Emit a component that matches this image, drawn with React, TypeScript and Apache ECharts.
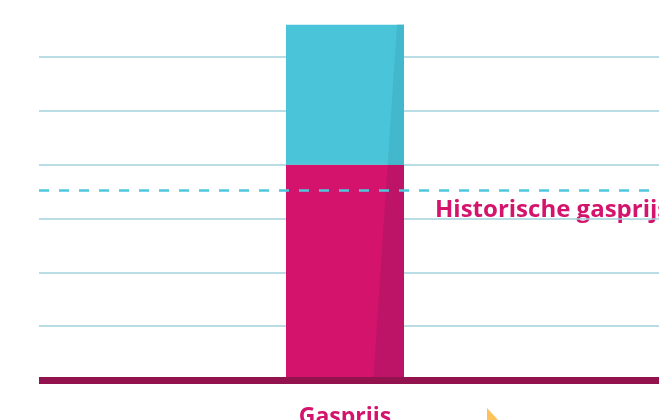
import React, { useEffect, useRef } from "react";
import * as echarts from "echarts";

const categories = ["Gasprijs"];
const baseValues = [4.0];
const topValues = [2.6];
const historicValue = 3.52;
const historicLabel = "Historische gasprijs";

const CYAN = "#4ac4d9";
const CYAN_SHADE = "#43b8cd";
const MAGENTA = "#d4146c";
const MAGENTA_SHADE = "#bd1467";

export default function App() {
  const ref = useRef<HTMLDivElement>(null);
  useEffect(() => {
    if (!ref.current) return;
    const chart = echarts.init(ref.current, undefined, { renderer: "svg" });
    const BW = 118;
    chart.setOption({
      animation: false,
      grid: [
        { left: 39, right: 0, top: 57, bottom: 40, outerBoundsMode: "none", containLabel: false },
        { left: 39, right: 8, top: 57, bottom: 40, outerBoundsMode: "none", containLabel: false },
      ],
      xAxis: [
        {
          gridIndex: 0,
          type: "value",
          min: 0,
          max: 1,
          z: 5,
          offset: 2,
          axisLine: { show: true, lineStyle: { color: "#93134f", width: 7, cap: "butt" } },
          axisTick: { show: false },
          axisLabel: { show: false },
          splitLine: { show: false },
        },
        {
          gridIndex: 1,
          type: "category",
          data: categories,
          axisLine: { show: false },
          axisTick: { show: false },
          axisLabel: {
            margin: 23,
            color: MAGENTA,
            fontFamily: "Open Sans",
            fontWeight: "bold",
            fontSize: 23,
          },
        },
      ],
      yAxis: [
        {
          gridIndex: 0,
          type: "value",
          min: 0,
          max: 6,
          interval: 1,
          axisLine: { show: false },
          axisTick: { show: false },
          axisLabel: { show: false },
          splitLine: { show: true, lineStyle: { color: "#a3d2dc", width: 1.6 } },
        },
        {
          gridIndex: 1,
          type: "value",
          min: 0,
          max: 6,
          interval: 1,
          axisLine: { show: false },
          axisTick: { show: false },
          axisLabel: { show: false },
          splitLine: { show: false },
        },
      ],
      series: [
        {
          type: "bar",
          xAxisIndex: 1,
          yAxisIndex: 1,
          stack: "a",
          barWidth: BW,
          clip: false,
          data: baseValues,
          itemStyle: { color: MAGENTA },
          z: 2,
        },
        {
          type: "bar",
          xAxisIndex: 1,
          yAxisIndex: 1,
          stack: "a",
          barWidth: BW,
          clip: false,
          data: topValues,
          itemStyle: { color: CYAN },
          z: 2,
        },
        {
          type: "custom",
          xAxisIndex: 1,
          yAxisIndex: 1,
          clip: false,
          z: 3,
          data: categories.map((c, i) => [i, baseValues[i], baseValues[i] + topValues[i]]),
          renderItem: (params: any, api: any) => {
            const bot = api.coord([api.value(0), 0]);
            const mid = api.coord([api.value(0), api.value(1)]);
            const top = api.coord([api.value(0), api.value(2)]);
            const left = bot[0] - BW / 2;
            const right = left + BW;
            const fb = 0.74, ft = 0.94;
            const xAt = (y: number) => {
              const t = (bot[1] - y) / (bot[1] - top[1]);
              return left + BW * (fb + (ft - fb) * t);
            };
            return {
              type: "group",
              children: [
                {
                  type: "polygon",
                  shape: { points: [[xAt(bot[1]), bot[1]], [xAt(mid[1]), mid[1]], [right, mid[1]], [right, bot[1]]] },
                  style: { fill: MAGENTA_SHADE },
                },
                {
                  type: "polygon",
                  shape: { points: [[xAt(mid[1]), mid[1]], [xAt(top[1]), top[1]], [right, top[1]], [right, mid[1]]] },
                  style: { fill: CYAN_SHADE },
                },
              ],
            };
          },
        },
        {
          type: "line",
          xAxisIndex: 0,
          yAxisIndex: 0,
          data: [],
          z: 10,
          markLine: {
            silent: true,
            symbol: ["none", "none"],
            label: { show: false },
            lineStyle: { color: "#4ec8dd", width: 2.5, type: [10, 10] },
            data: [{ yAxis: historicValue }],
          },
        },
      ],
      graphic: [
        {
          type: "text",
          left: 435,
          top: 195,
          style: {
            text: historicLabel,
            fill: MAGENTA,
            font: "bold 24px 'Open Sans'",
          },
        },
        {
          type: "polygon",
          shape: { points: [[487, 408], [499, 421], [487, 421]] },
          style: { fill: "#fcc35a" },
        },
      ],
    });
    return () => chart.dispose();
  }, []);
  return (
    <div
      ref={ref}
      style={{ position: "fixed", left: 0, top: 0, width: 659, height: 420 }}
    />
  );
}
